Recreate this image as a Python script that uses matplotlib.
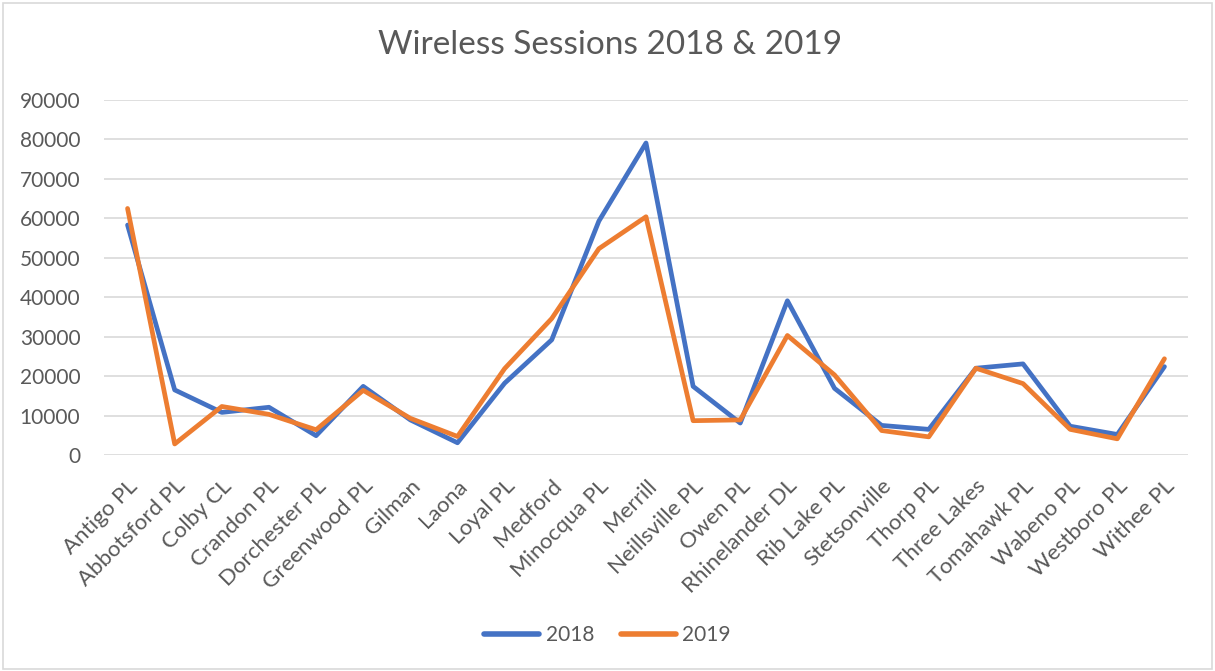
import matplotlib
matplotlib.use("Agg")
import matplotlib.pyplot as plt
from matplotlib.patches import Rectangle

categories = ["Antigo PL", "Abbotsford PL", "Colby CL", "Crandon PL", "Dorchester PL",
              "Greenwood PL", "Gilman", "Laona", "Loyal PL", "Medford", "Minocqua PL",
              "Merrill", "Neillsville PL", "Owen PL", "Rhinelander DL", "Rib Lake PL",
              "Stetsonville", "Thorp PL", "Three Lakes", "Tomahawk PL", "Wabeno PL",
              "Westboro PL", "Withee PL"]
sessions_2018 = [58300, 16500, 10800, 12100, 4900, 17400, 8900, 3100, 18200, 29200, 59300,
                 79100, 17400, 8100, 39100, 16900, 7500, 6500, 22000, 23100, 7300, 5200, 22400]
sessions_2019 = [62500, 2800, 12300, 10300, 6400, 16400, 9300, 4700, 21900, 34600, 52300,
                 60400, 8700, 8900, 30300, 20300, 6200, 4600, 22000, 18100, 6500, 4100, 24400]
yticks = [0, 10000, 20000, 30000, 40000, 50000, 60000, 70000, 80000, 90000]

plt.rcParams['font.family'] = ['Lato', 'DejaVu Sans']
text_color = "#595959"

fig = plt.figure(figsize=(12.15, 6.71), dpi=100)
ax = fig.add_axes([104 / 1215, 1 - 455 / 671, (1188 - 104) / 1215, (455 - 100) / 671])

x = list(range(len(categories)))
ax.plot(x, sessions_2018, color="#4472C4", lw=3.4, label="2018", solid_joinstyle="round", solid_capstyle="round")
ax.plot(x, sessions_2019, color="#ED7D31", lw=3.4, label="2019", solid_joinstyle="round", solid_capstyle="round")

ax.set_xlim(-0.5, len(categories) - 0.5)
ax.set_ylim(0, 90000)
ax.set_yticks(yticks)
ax.set_yticklabels([str(v) for v in yticks])
ax.set_xticks(x)
ax.set_xticklabels(categories, rotation=45, ha="right", va="top", rotation_mode="anchor")
ax.tick_params(axis="both", length=0, colors=text_color)
ax.tick_params(axis="y", pad=17, labelsize=15)
ax.tick_params(axis="x", pad=15, labelsize=16)
ax.grid(axis="y", color="#D9D9D9", lw=1.2)
ax.set_axisbelow(True)
for s in ax.spines.values():
    s.set_visible(False)

fig.text(610 / 1215, 1 - 45 / 671, "Wireless Sessions 2018 & 2019", ha="center", va="center",
         fontsize=24, color=text_color)

leg = fig.legend(loc="center", bbox_to_anchor=(0.5, 1 - 635 / 671), ncol=2, frameon=False,
                 fontsize=15, handlelength=2.65, columnspacing=1.3, handletextpad=0.3)
for t in leg.get_texts():
    t.set_color(text_color)
for h in leg.get_lines():
    h.set_linewidth(4)

fig.patches.append(Rectangle((3 / 1215, 2 / 671), 1 - 6 / 1215, 1 - 5 / 671, transform=fig.transFigure,
                             fill=False, edgecolor="#D9D9D9", lw=1.2))

fig.savefig("out.png", dpi=100)
